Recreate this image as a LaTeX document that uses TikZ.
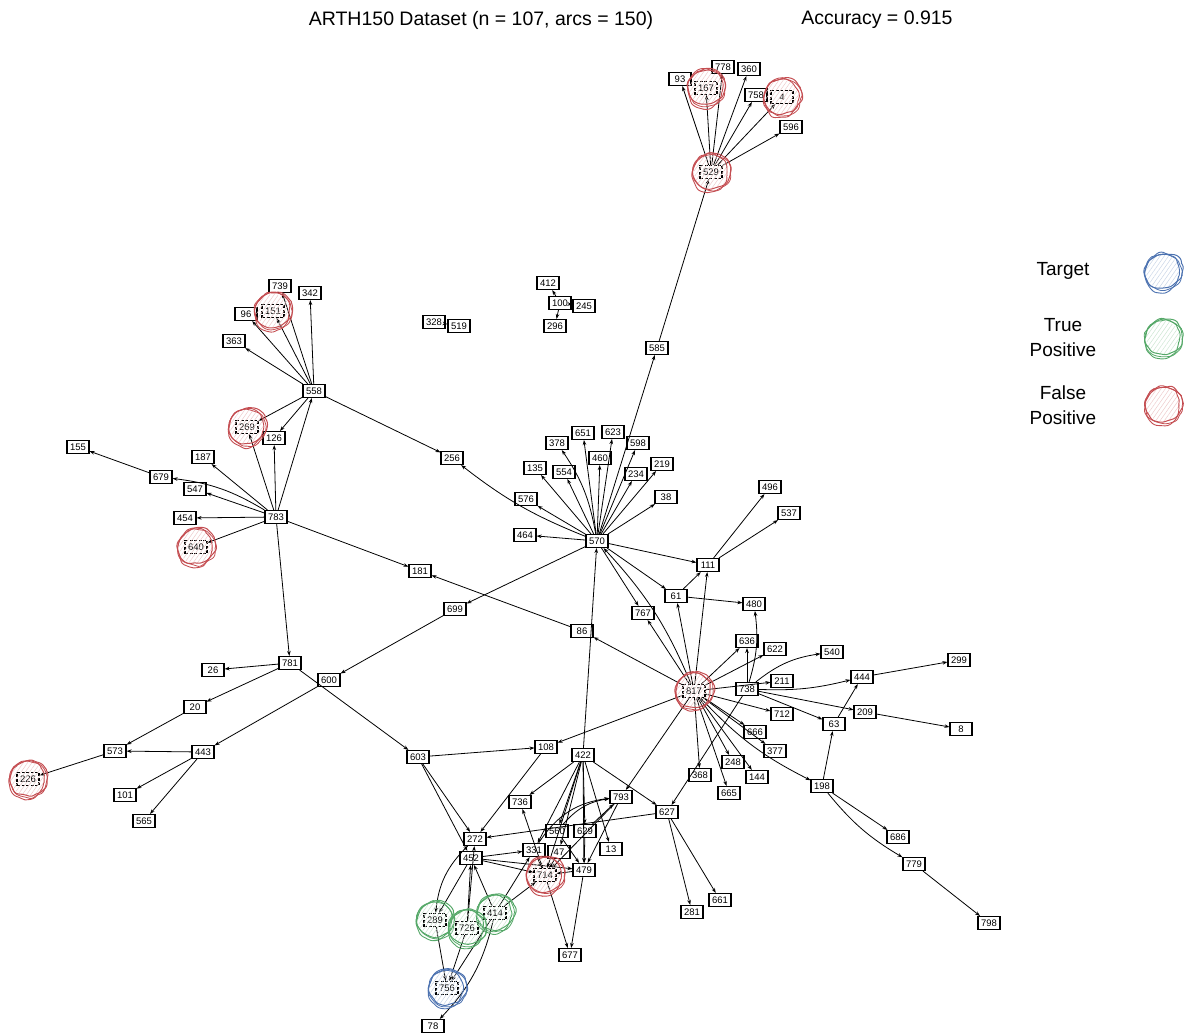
\documentclass[tikz,border=0pt]{standalone}
\usepackage{fontspec}
\setmainfont{Liberation Sans}
\usetikzlibrary{arrows.meta,patterns.meta,decorations.pathmorphing}
\definecolor{tgtblue}{HTML}{4C72B0}
\definecolor{tpgreen}{HTML}{55A868}
\definecolor{fpred}{HTML}{C44E52}
\tikzset{
  vertex/.style={draw, line width=1.1pt, fill=white, minimum width=22pt, minimum height=13pt, inner sep=0pt, font=\fontsize{9.5}{10}\selectfont},
  hit/.style={vertex, dash pattern=on 3pt off 1.5pt},
  link/.style={-{Stealth[length=5pt,width=3.6pt]}, line width=0.8pt},
  legtext/.style={align=center, font=\fontsize{19}{25}\selectfont},
  wobble/.style={decorate, decoration={random steps, segment length=5pt, amplitude=1.3pt}, rounded corners=2.5pt},
}
\newcommand{\scribble}[2]{%
  \fill[pattern={Lines[angle=55,distance=3.5pt,line width=0.5pt]}, pattern color=#2!30] (#1.center) circle[radius=17];
  \draw[#2, line width=1pt, wobble] (#1.center) ++(1,-1) circle[x radius=19, y radius=17, rotate=25];
  \draw[#2, line width=0.9pt, wobble] (#1.center) ++(-1,1) circle[x radius=17, y radius=19.5, rotate=-10];
  \draw[#2, line width=0.8pt, wobble] (#1.center) ++(0.5,0.5) circle[x radius=18.5, y radius=18];
}
\begin{document}
\begin{tikzpicture}[x=1pt,y=-1pt]
\pgfmathsetseed{7}
\useasboundingbox (0,0) rectangle (1195,1034);
% title
\node[font=\fontsize{19.5}{22}\selectfont] (title) at (481,20) {ARTH150 Dataset (n = 107, arcs = 150)};
\node[font=\fontsize{19.5}{22}\selectfont] (acc) at (877,20) {Accuracy = 0.915};
% plain nodes
\foreach \n/\x/\y in {93/680/79, 778/723/67, 360/749/69, 758/756/95, 596/791/127,
  558/314/391, 739/280/286, 342/310/293, 96/246/314, 363/234/341, 126/274/438, 256/452/458, 783/276/517,
  155/78/447, 679/161/477, 187/203/457, 547/195/489, 454/185/518, 181/420/571, 781/290/663, 26/213/670,
  20/195/707, 600/329/680, 573/115/751, 443/203/752, 101/125/795, 565/144/821, 603/418/757,
  328/434/322, 519/459/326, 412/548/283, 100/560/303, 245/584/306, 296/555/326, 585/657/348, 570/597/541,
  378/557/443, 651/583/433, 623/613/432, 598/638/443, 460/600/458, 135/535/468, 554/564/472, 234/636/474,
  219/662/464, 38/666/497, 576/526/499, 464/525/535, 111/708/565, 496/770/487, 537/789/513, 699/455/609,
  86/582/631, 61/676/596, 767/643/613, 480/754/604, 636/747/641, 622/775/649, 540/832/652, 211/782/681,
  738/747/689, 444/862/677, 299/959/660, 712/782/714, 209/865/712, 63/834/724, 8/961/729, 666/755/732,
  377/775/751, 248/733/762, 144/757/777, 368/700/775, 665/729/793, 198/822/786, 686/898/837, 779/914/864,
  798/989/923, 108/546/747, 422/583/755, 736/520/802, 793/621/797, 627/667/812, 272/475/839, 560/557/831,
  629/585/831, 13/611/849, 331/534/850, 47/559/852, 452/471/858, 479/584/870, 281/692/912, 661/720/900,
  677/570/955, 78/433/1026}
  \node[vertex] (n\n) at (\x,\y) {\n};
% circled nodes
\foreach \n/\x/\y in {529/711/172, 167/706/88, 4/782/97, 151/273/311, 269/247/427, 640/196/547,
  226/28/779, 817/694/691, 714/545/875, 289/435/920, 414/495/913, 726/467/928, 756/447/988}
  \node[hit] (n\n) at (\x,\y) {\n};
% arcs
\foreach \t in {93,167,778,360,758,4,596} \draw[link] (n529) -- (n\t);
\draw[link] (n585) -- (n529);
\foreach \t in {739,151,342,96,363,269,126,256} \draw[link] (n558) -- (n\t);
\foreach \t in {558,269,126,187,547,454,640,181,781} \draw[link] (n783) -- (n\t);
\draw[link] (n783) to[bend right=12] (n679);
\draw[link] (n679) -- (n155);
\foreach \t in {26,20,603} \draw[link] (n781) -- (n\t);
\draw[link] (n20) -- (n573);
\draw[link] (n573) -- (n226);
\foreach \t in {573,101,565} \draw[link] (n443) -- (n\t);
\draw[link] (n600) -- (n443);
\draw[link] (n699) -- (n600);
\draw[link] (n328) -- (n519);
\foreach \t in {412,245,296} \draw[link] (n100) -- (n\t);
\foreach \t in {585,651,623,598,460,135,554,234,219,38,576,464,111,61,767,699} \draw[link] (n570) -- (n\t);
\draw[link] (n570) to[bend right=12] (n378);
\draw[link] (n570) to[bend left=8] (n256);
\draw[link] (n422) -- (n570);
\draw[link] (n817) to[bend right=10] (n570);
\draw[link] (n86) -- (n181);
\foreach \t in {111,480} \draw[link] (n61) -- (n\t);
\foreach \t in {496,537} \draw[link] (n111) -- (n\t);
\foreach \t in {86,111,61,767,636,622,211,712,666,377,248,144,368,665,793,108} \draw[link] (n817) -- (n\t);
\draw[link] (n817) to[bend right=10] (n198);
\foreach \t in {636,209,63,627} \draw[link] (n738) -- (n\t);
\draw[link] (n738) to[bend right=12] (n480);
\draw[link] (n738) to[bend left=15] (n540);
\draw[link] (n738) to[bend right=8] (n444);
\draw[link] (n444) -- (n299);
\draw[link] (n209) -- (n8);
\draw[link] (n63) -- (n444);
\foreach \t in {63,686} \draw[link] (n198) -- (n\t);
\draw[link] (n198) to[bend right=10] (n779);
\draw[link] (n779) -- (n798);
\foreach \t in {108,272,452} \draw[link] (n603) -- (n\t);
\draw[link] (n108) -- (n272);
\foreach \t in {736,627,13,331,560,629,479,714,47} \draw[link] (n422) -- (n\t);
\foreach \t in {272,281,661} \draw[link] (n627) -- (n\t);
\draw[link] (n560) to[bend left=20] (n793);
\draw[link] (n331) to[bend left=25] (n793);
\draw[link] (n629) -- (n793);
\foreach \t in {479,714} \draw[link] (n793) -- (n\t);
\foreach \t in {479} {\draw[link] (n629) -- (n\t); \draw[link] (n560) -- (n\t);}
\foreach \s in {47,331,479} \draw[link] (n\s) -- (n714);
\foreach \t in {331,714,479,289} \draw[link] (n452) -- (n\t);
\draw[link] (n714) -- (n736);
\foreach \s in {714,479} \draw[link] (n\s) -- (n677);
\draw[link] (n272) to[bend right=20] (n289);
\foreach \t in {452,272,756} \draw[link] (n726) -- (n\t);
\foreach \t in {452,331,714,756} \draw[link] (n414) -- (n\t);
\draw[link] (n414) to[bend left=15] (n78);
\draw[link] (n289) -- (n756);
% rings
\foreach \n in {529,167,4,151,269,640,226,817,714} \scribble{n\n}{fpred};
\foreach \n in {289,414,726} \scribble{n\n}{tpgreen};
\scribble{n756}{tgtblue}
% legend
\node[legtext] (legT) at (1063,271) {Target};
\node[legtext] (legTP) at (1063,338) {True\\Positive};
\node[legtext] (legFP) at (1063,405) {False\\Positive};
\coordinate (keyT) at (1163,272);
\coordinate (keyTP) at (1163,338);
\coordinate (keyFP) at (1163,405);
\scribble{keyT}{tgtblue}
\scribble{keyTP}{tpgreen}
\scribble{keyFP}{fpred}
\end{tikzpicture}
\end{document}
